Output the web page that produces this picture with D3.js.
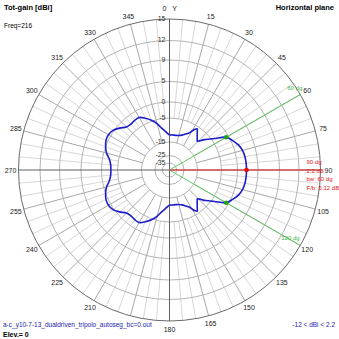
<!DOCTYPE html>
<html><head><meta charset="utf-8">
<script src="https://cdn.jsdelivr.net/npm/d3@7"></script>
<style>
body{margin:0;background:#fff}
svg{display:block;font-family:"Liberation Sans",Arial,sans-serif}
</style>
</head><body>
<svg id="chart" width="339" height="339"></svg>
<script>
// Ring values (dBi) and their labels
const ringDb = [-35, -25, -15, -5, 0, 5, 9, 12, 15];
const ringLabels = ["-35", "-25", "-15", "-5", "0", "5", "9", "12", "15"];
// Azimuth tick labels (degrees, clockwise from Y); 195 sits under the file name
const azimuthTicks = [15,30,45,60,75,90,105,120,135,150,165,180,210,225,240,255,270,285,300,315,330,345];
// Horizontal-plane pattern: azimuth (deg) and total gain (dBi)
const azimuth = [0,5,10,15,20,25,28,30,32,34,36,38,40,42,44,46,48,50,55,60,65,70,75,80,85,
  90,95,100,105,110,115,120,125,130,132,134,136,138,140,142,144,146,148,150,152,155,160,165,170,175,
  180,185,190,195,200,205,210,215,220,225,230,235,240,245,250,255,260,265,
  270,275,280,285,290,295,300,305,310,315,320,325,330,335,340,345,350,355];
const gainDbi = [-12.0,-12.0,-12.0,-11.8,-11.2,-10.0,-9.2,-7.9,-6.7,-6.0,-7.0,-7.9,-8.7,-9.4,-10.0,-9.2,-7.9,-6.9,-4.1,-0.8,0.4,1.3,1.85,2.1,2.18,
  2.2,2.18,2.1,1.85,1.3,0.4,-0.8,-4.1,-6.9,-7.9,-9.2,-10.0,-9.4,-8.7,-7.9,-7.0,-6.0,-6.7,-7.9,-9.2,-10.0,-11.2,-11.8,-12.0,-12.0,
  -12.0,-10.8,-9.2,-6.7,-4.7,-3.4,-2.3,-2.3,-2.5,-2.2,-0.9,0.25,0.6,0.5,0.0,-0.9,-2.2,-2.8,
  -2.92,-2.8,-2.2,-0.9,0.0,0.5,0.6,0.25,-0.9,-2.2,-2.5,-2.3,-2.3,-3.4,-4.7,-6.7,-9.2,-10.8];
// Summary values
const maxAzimuth = 90, maxGain = 2.2, minGain = -12;
const beamEdges = [60, 120], beamEdgeGain = -0.8, beamwidth = 60, frontBack = 5.12;
const freqLabel = "Freq=216";
const fileLabel = "a-c_y10-7-13_dualdriven_tripolo_autoseg_bc=0.out";
const elevLabel = "Elev.= 0";

const svg = d3.select("#chart");
const cx = 169.5, cy = 170, R = 151;
const g = svg.append("g").attr("transform", `translate(${cx},${cy})`);

const r = d3.scaleLinear().domain(ringDb).range([7, 14.5, 28, 52, 68, 88.5, 110, 129.5, R]).clamp(true);
const rad = d => d * Math.PI / 180;
const px = (a, rr) => rr * Math.sin(rad(a));
const py = (a, rr) => -rr * Math.cos(rad(a));

// minor spokes every 5 degrees
const minor = d3.range(0, 360, 5).filter(a => a % 15 !== 0);
g.selectAll("line.minor").data(minor).join("line")
  .attr("x1", a => px(a, r(-5))).attr("y1", a => py(a, r(-5)))
  .attr("x2", a => px(a, R)).attr("y2", a => py(a, R))
  .attr("stroke", "#d8d8d8").attr("stroke-width", 1);
// major spokes every 15 degrees
const major = d3.range(0, 360, 15).filter(a => a % 90 !== 0);
g.selectAll("line.major").data(major).join("line")
  .attr("x1", a => px(a, r(-15))).attr("y1", a => py(a, r(-15)))
  .attr("x2", a => px(a, R)).attr("y2", a => py(a, R))
  .attr("stroke", "#a8a8a8").attr("stroke-width", 1);
// rings
g.selectAll("circle.ring").data(ringDb).join("circle")
  .attr("r", d => r(d)).attr("fill", "none")
  .attr("stroke", d => d === 15 ? "#6a6a6a" : "#b4b4b4").attr("stroke-width", 1);
// main axes
g.append("line").attr("x1", 0).attr("y1", -R).attr("x2", 0).attr("y2", R).attr("stroke", "#606060");
g.append("line").attr("x1", -R).attr("y1", 0).attr("x2", R).attr("y2", 0).attr("stroke", "#606060");

// beamwidth and maximum direction lines
g.selectAll("line.bw").data(beamEdges).join("line")
  .attr("x1", 0).attr("y1", 0).attr("x2", a => px(a, R)).attr("y2", a => py(a, R))
  .attr("stroke", "#62c862").attr("stroke-width", 1);
g.append("line").attr("x1", 0).attr("y1", 0).attr("x2", px(maxAzimuth, R)).attr("y2", py(maxAzimuth, R))
  .attr("stroke", "#f03030").attr("stroke-width", 1);

// pattern
const pts = azimuth.map((a, i) => [rad(a), r(gainDbi[i])]);
g.append("path").datum(pts)
  .attr("d", d3.lineRadial().curve(d3.curveCatmullRomClosed.alpha(0.5)))
  .attr("fill", "none").attr("stroke", "#1c1cc8").attr("stroke-width", 1.6);

// markers
g.selectAll("circle.bwdot").data(beamEdges).join("circle")
  .attr("cx", a => px(a, r(beamEdgeGain))).attr("cy", a => py(a, r(beamEdgeGain)))
  .attr("r", 2.3).attr("fill", "#1aa01a");
g.append("circle").attr("cx", px(maxAzimuth, r(maxGain))).attr("cy", py(maxAzimuth, r(maxGain)))
  .attr("r", 2.3).attr("fill", "#e01010");

// ring labels
g.selectAll("text.rl").data(ringDb).join("text")
  .attr("x", -4).attr("y", d => -r(d) + 1.5)
  .attr("text-anchor", "end").attr("font-size", 7).attr("fill", "#333")
  .text((d, i) => ringLabels[i]);

// azimuth labels
g.selectAll("text.al").data(azimuthTicks).join("text")
  .attr("x", a => px(a, R + 8)).attr("y", a => py(a, R + 8) + 2.5)
  .attr("text-anchor", "middle").attr("font-size", 7).attr("fill", "#222")
  .text(a => a);
g.append("text").attr("x", -5).attr("y", -R - 8).attr("text-anchor", "middle")
  .attr("font-size", 7).attr("fill", "#222").text("0");
g.append("text").attr("x", 5).attr("y", -R - 8).attr("text-anchor", "middle")
  .attr("font-size", 7).attr("fill", "#222").text("Y");

// beam annotations
g.append("text").attr("x", px(beamEdges[0], R) - 13).attr("y", py(beamEdges[0], R) - 5)
  .attr("font-size", 6).attr("fill", "#40b040").text(beamEdges[0] + " dg");
g.append("text").attr("x", px(beamEdges[1], R) - 19).attr("y", py(beamEdges[1], R) - 6)
  .attr("font-size", 6).attr("fill", "#40b040").text(beamEdges[1] + " dg");
const info = [maxAzimuth + " dg", maxGain + " dB", "bw: " + beamwidth + " dg", "F/b: " + frontBack + " dB"];
g.selectAll("text.info").data(info).join("text")
  .attr("x", 137).attr("y", (d, i) => -6 + i * 8.7)
  .attr("font-size", 6).attr("fill", "#e02020").text(d => d);

// titles and footers
svg.append("text").attr("x", 4).attr("y", 10).attr("font-size", 7.5).attr("font-weight", "bold").text("Tot-gain [dBi]");
svg.append("text").attr("x", 4).attr("y", 27.5).attr("font-size", 6.5).text(freqLabel);
svg.append("text").attr("x", 334).attr("y", 10).attr("text-anchor", "end").attr("font-size", 7.5).attr("font-weight", "bold").text("Horizontal plane");
svg.append("text").attr("x", 3).attr("y", 327).attr("font-size", 6.5).attr("fill", "#2424b0").text(fileLabel);
svg.append("text").attr("x", 335).attr("y", 327).attr("text-anchor", "end").attr("font-size", 6.5).attr("fill", "#2424b0")
  .text(minGain + " < dBi < " + maxGain);
svg.append("text").attr("x", 3).attr("y", 337).attr("font-size", 7).attr("font-weight", "bold").text(elevLabel);
</script>
</body></html>
